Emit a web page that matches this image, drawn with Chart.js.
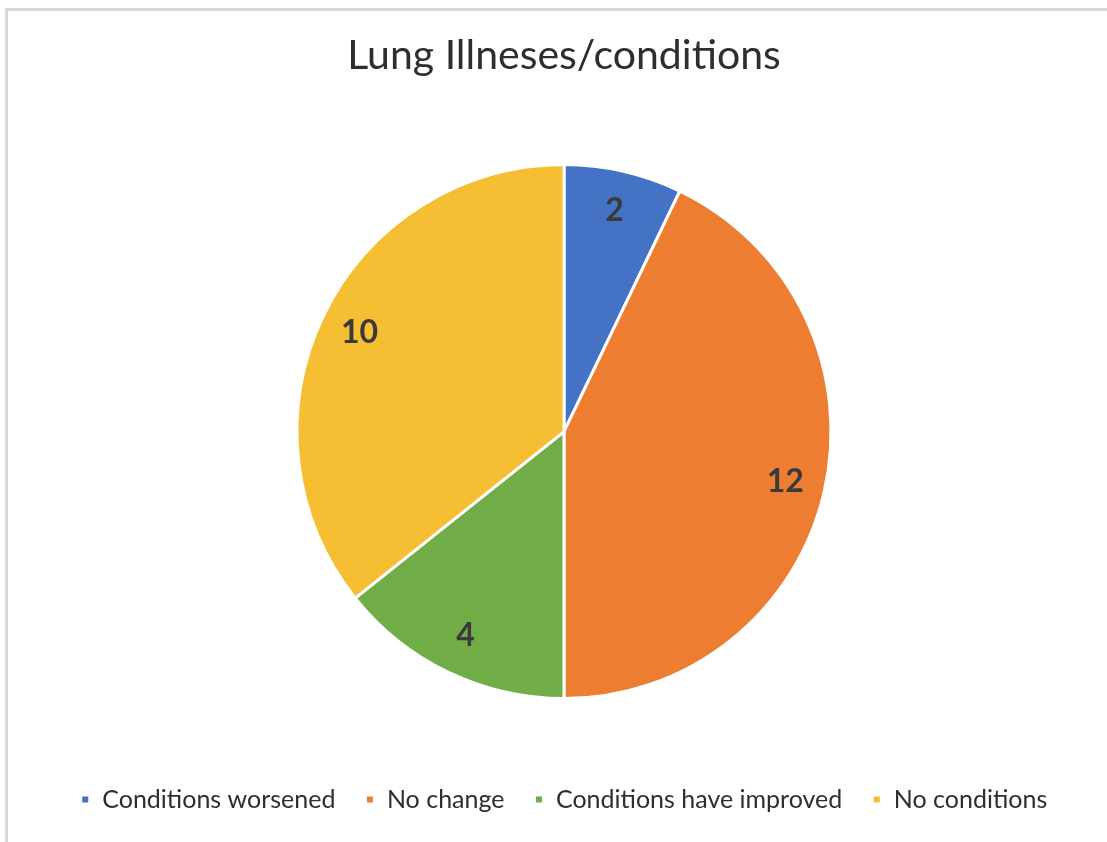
<!DOCTYPE html>
<html>
<head>
<meta charset="utf-8">
<script src="https://cdn.jsdelivr.net/npm/chart.js@4"></script>
<style>
  body { margin: 0; background: #fff; }
  #wrap { position: relative; width: 1107px; height: 842px; }
  #frame {
    position: absolute; left: 5px; top: 8px; width: 1200px; height: 900px;
    border-top: 3px solid #d9d9d9; border-left: 3px solid #d9d9d9;
  }
  canvas { position: absolute; left: 0; top: 0; }
</style>
</head>
<body>
<div id="wrap">
  <div id="frame"></div>
  <canvas id="lung-chart" width="1107" height="842"></canvas>
</div>
<script>
const labels = ['Conditions worsened', 'No change', 'Conditions have improved', 'No conditions']
const counts = [2, 12, 4, 10]
const colors = ['#4472c4', '#ed7d31', '#70ad47', '#f6be32']

// draw the numbers on each slice (no datalabels plugin offline)
const sliceLabels = {
  id: 'sliceLabels',
  afterDatasetsDraw(chart) {
    const ctx = chart.ctx
    const meta = chart.getDatasetMeta(0)
    ctx.save()
    ctx.font = 'bold 32px Lato'
    ctx.fillStyle = '#3a3a3a'
    ctx.textAlign = 'center'
    ctx.textBaseline = 'middle'
    meta.data.forEach((arc, i) => {
      const p = arc.getProps(['x', 'y', 'startAngle', 'endAngle', 'outerRadius'])
      const mid = (p.startAngle + p.endAngle) / 2
      const r = p.outerRadius * 0.85
      ctx.fillText(counts[i], p.x + Math.cos(mid) * r, p.y + Math.sin(mid) * r)
    })
    ctx.restore()
  }
}

new Chart(document.getElementById('lung-chart'), {
  type: 'pie',
  data: {
    labels: labels,
    datasets: [{
      data: counts,
      backgroundColor: colors,
      borderColor: '#fff',
      borderWidth: 3,
      radius: 267,
    }]
  },
  options: {
    responsive: false,
    animation: false,
    layout: {
      padding: { left: 21, right: 0, top: 0, bottom: 20 }
    },
    plugins: {
      title: {
        display: true,
        text: 'Lung Illneses/conditions',
        color: '#2e2e2e',
        font: { family: 'Lato', size: 41, weight: 'normal' },
        padding: { top: 31, bottom: 26 }
      },
      legend: {
        position: 'bottom',
        labels: {
          color: '#2e2e2e',
          font: { family: 'Lato', size: 25 },
          boxWidth: 9,
          boxHeight: 9,
          padding: 30
        }
      },
      tooltip: { enabled: false }
    }
  },
  plugins: [sliceLabels]
});
</script>
</body>
</html>
